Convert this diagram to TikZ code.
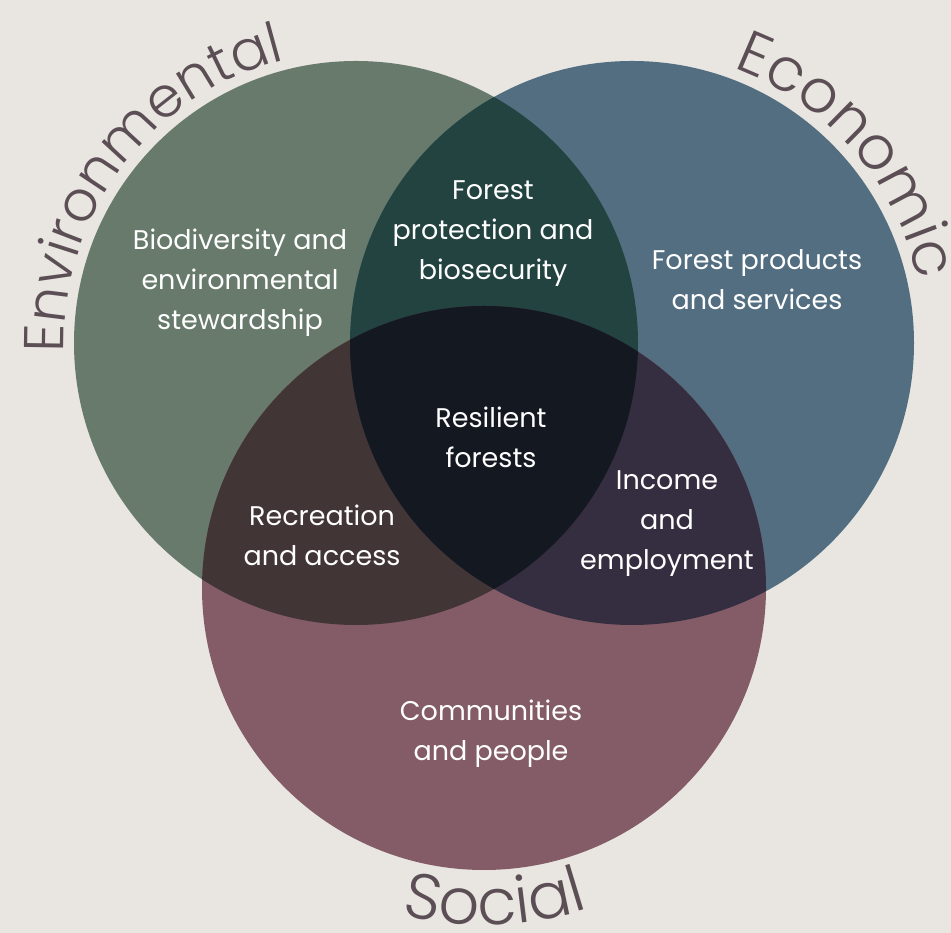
\documentclass[tikz,border=0pt]{standalone}
\usepackage{fontspec}
\setmainfont{Poppins}
\newfontfamily\lightfont{Poppins Light}
\usetikzlibrary{decorations.text}
\definecolor{bg}{HTML}{E9E6E1}
\definecolor{cgreen}{HTML}{687A6C}
\definecolor{cblue}{HTML}{526E80}
\definecolor{cmaroon}{HTML}{835C68}
\definecolor{cgb}{HTML}{224340}
\definecolor{cgm}{HTML}{413535}
\definecolor{cbm}{HTML}{352E40}
\definecolor{ccenter}{HTML}{141820}
\definecolor{lab}{HTML}{5B4F55}
\begin{document}
\begin{tikzpicture}[x=1pt,y=1pt,
  body/.style={text=white, align=center, font=\fontsize{27}{40}\selectfont, inner sep=0pt},
  arclabel/.style 2 args={decorate, decoration={text along path, text align=center, text color=lab, text={|\lightfont\fontsize{#1}{#1}\selectfont|#2}}}]
\fill[bg] (0,0) rectangle (951,933);
\useasboundingbox (0,0) rectangle (951,933);
\coordinate (cE) at (356,590);
\coordinate (cC) at (632,590);
\coordinate (cS) at (484,345);
\def\R{282}
\fill[cgreen] (cE) circle[radius=\R];
\fill[cblue] (cC) circle[radius=\R];
\fill[cmaroon] (cS) circle[radius=\R];
\begin{scope}
  \clip (cE) circle[radius=\R];
  \fill[cgb] (cC) circle[radius=\R];
  \fill[cgm] (cS) circle[radius=\R];
\end{scope}
\begin{scope}
  \clip (cC) circle[radius=\R];
  \fill[cbm] (cS) circle[radius=\R];
\end{scope}
\begin{scope}
  \clip (cE) circle[radius=\R];
  \clip (cC) circle[radius=\R];
  \fill[ccenter] (cS) circle[radius=\R];
\end{scope}
% curved labels
\path[arclabel={56}{Environmental}] (cE) ++(198:292) arc[start angle=198, end angle=88, radius=292];
\path[arclabel={60}{Economic}] (cC) ++(81:293) arc[start angle=81, end angle=1, radius=293];
\path[arclabel={64}{Social}] (cS) ++(232:337) arc[start angle=232, end angle=312, radius=337];
% region texts
\node[body] (bio) at (240,650) {Biodiversity and\\environmental\\stewardship};
\node[body] (prot) at (493,699) {Forest\\protection and\\biosecurity};
\node[body] (prod) at (757,653) {Forest products\\and services};
\node[body] (res) at (491,496) {Resilient\\forests};
\node[body] (rec) at (322,398) {Recreation\\and access};
\node[body] (inc) at (667,409) {Income\\and\\employment};
\node[body] (com) at (491,199) {Communities\\and people};
\end{tikzpicture}
\end{document}
